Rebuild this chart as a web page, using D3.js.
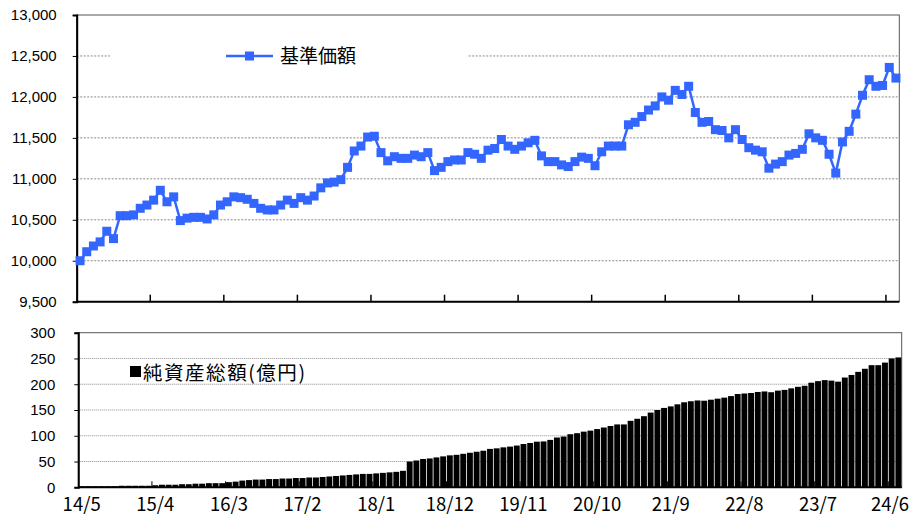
<!DOCTYPE html>
<html>
<head>
<meta charset="utf-8">
<script src="https://cdn.jsdelivr.net/npm/d3@7"></script>
<style>
  body { margin: 0; background: #fff; }
  svg { display: block; }
</style>
</head>
<body>
<svg width="910" height="517"></svg>
<script>
// monthly categories, 14/5 .. 24/7 (123 months)
var months = d3.range(123).map(function (i) {
  var m = 4 + i;
  return String(14 + Math.floor(m / 12)) + "/" + ((m % 12) + 1);
});

var tickLabels = ["14/5", "15/4", "16/3", "17/2", "18/1", "18/12", "19/11", "20/10", "21/9", "22/8", "23/7", "24/6"];

// 基準価額
var navValues = [
  10000, 10110, 10180, 10230, 10360, 10270, 10550, 10550, 10560, 10640,
  10680, 10740, 10860, 10720, 10780, 10490, 10520, 10530, 10530, 10510,
  10560, 10680, 10720, 10780, 10770, 10750, 10700, 10640, 10620, 10620,
  10680, 10740, 10700, 10770, 10740, 10790, 10890, 10950, 10960, 10990,
  11140, 11340, 11400, 11510, 11520, 11320, 11220, 11270, 11250, 11250,
  11290, 11270, 11320, 11100, 11140, 11210, 11230, 11230, 11320, 11300,
  11250, 11350, 11370, 11480, 11400, 11360, 11400, 11440, 11470, 11280,
  11210, 11210, 11170, 11150, 11210, 11265, 11250, 11160, 11330, 11400,
  11400, 11400, 11660, 11690, 11760, 11840, 11890, 12000, 11960, 12080,
  12030, 12130, 11810, 11690, 11700, 11600, 11590, 11500, 11600, 11480,
  11380, 11350, 11330, 11130, 11180, 11210, 11290, 11310, 11360, 11550,
  11500, 11470, 11300, 11070, 11450, 11580, 11790, 12020, 12210, 12130,
  12140, 12360, 12230
];

// 純資産総額(億円)
var assetValues = [
  2, 2, 2, 2, 2, 2, 3, 3, 3, 3,
  3, 4, 5, 5, 5, 6, 6, 7, 7, 8,
  8, 8, 10, 11, 13, 14, 15, 15, 16, 16,
  17, 17, 18, 18, 19, 19, 20, 21, 22, 23,
  24, 25, 26, 26, 27, 28, 29, 30, 32, 50,
  52, 55, 56, 58, 60, 62, 63, 65, 67, 69,
  71, 74.5, 75.6, 77.5, 79, 81, 84, 86, 88.5, 89,
  92, 96.6, 98.5, 103, 105, 108, 110, 113, 116, 119,
  122, 122, 129, 133, 138, 145, 150, 154, 157, 161,
  165, 167, 168.5, 168, 170, 172, 174, 177, 181, 182,
  183, 185, 186, 184.5, 187.6, 189, 192, 195, 197, 203,
  206, 208, 207, 205, 213, 218, 224, 230, 237, 237,
  242, 250, 252
];

var navTicks = [9500, 10000, 10500, 11000, 11500, 12000, 12500, 13000];
var assetTicks = [0, 50, 100, 150, 200, 250, 300];

var svg = d3.select("svg");
var W = +svg.attr("width");
var numFont = "'Liberation Sans', Arial, sans-serif";
var jpFont = "'Noto Sans CJK JP', sans-serif";
var blue = "#3366ff";

// ---- top panel ----
var xTop = d3.scaleBand().domain(months).range([76.7, 899.3]);
var yTop = d3.scaleLinear().domain([9500, 13000]).range([301.7, 15]);

var topG = svg.append("g");

topG.selectAll("line.grid")
  .data(navTicks.slice(1, -1))
  .enter()
  .append("line")
  .attr("class", "grid")
  .attr("x1", xTop.range()[0])
  .attr("x2", xTop.range()[1])
  .attr("y1", function (d) { return yTop(d); })
  .attr("y2", function (d) { return yTop(d); })
  .attr("stroke", "#8a8a8a")
  .attr("stroke-dasharray", "2,1.5");

topG.append("rect")
  .attr("x", xTop.range()[0])
  .attr("y", yTop(13000))
  .attr("width", xTop.range()[1] - xTop.range()[0])
  .attr("height", yTop(9500) - yTop(13000))
  .attr("fill", "none")
  .attr("stroke", "#555");

// legend box hides the grid line behind it
topG.append("rect")
  .attr("x", 110).attr("y", 44).attr("width", 357).attr("height", 25)
  .attr("fill", "#fff");

var yAxisTop = topG.append("g")
  .attr("transform", "translate(" + xTop.range()[0] + ",0)")
  .call(d3.axisLeft(yTop).tickValues(navTicks).tickFormat(d3.format(",")).tickSize(4).tickPadding(16));
yAxisTop.select(".domain").attr("stroke", "#000").attr("stroke-width", 2);
yAxisTop.selectAll("text").attr("font-family", numFont).attr("font-size", 15).attr("fill", "#000");

topG.append("line")
  .attr("x1", xTop.range()[0]).attr("x2", xTop.range()[1])
  .attr("y1", yTop(9500)).attr("y2", yTop(9500))
  .attr("stroke", "#000").attr("stroke-width", 2);

topG.selectAll("line.xtick")
  .data(tickLabels.slice(1))
  .enter()
  .append("line")
  .attr("class", "xtick")
  .attr("x1", function (d) { return xTop(d); })
  .attr("x2", function (d) { return xTop(d); })
  .attr("y1", yTop(9500))
  .attr("y2", yTop(9500) - 7)
  .attr("stroke", "#000")
  .attr("stroke-width", 1.5);

var line = d3.line()
  .x(function (d, i) { return xTop(months[i]) + xTop.bandwidth() / 2; })
  .y(function (d) { return yTop(d); });

topG.append("path")
  .datum(navValues)
  .attr("d", line)
  .attr("fill", "none")
  .attr("stroke", blue)
  .attr("stroke-width", 2.5);

var ms = 9;
topG.selectAll("rect.mk")
  .data(navValues)
  .enter()
  .append("rect")
  .attr("class", "mk")
  .attr("x", function (d, i) { return xTop(months[i]) + xTop.bandwidth() / 2 - ms / 2; })
  .attr("y", function (d) { return yTop(d) - ms / 2; })
  .attr("width", ms)
  .attr("height", ms)
  .attr("fill", blue);

// legend
var lg = topG.append("g").attr("transform", "translate(226,56)");
lg.append("line").attr("x1", 0).attr("x2", 47).attr("stroke", blue).attr("stroke-width", 2.5);
lg.append("rect").attr("x", 23.5 - ms / 2).attr("y", -ms / 2).attr("width", ms).attr("height", ms).attr("fill", blue);
lg.append("text")
  .attr("x", 54).attr("y", 7)
  .attr("font-family", jpFont).attr("font-size", 19).attr("fill", "#000")
  .text("基準価額");

// ---- bottom panel ----
var xBot = d3.scaleBand().domain(months).range([78.3, 901.7]).paddingInner(0.12).paddingOuter(0.06);
var yBot = d3.scaleLinear().domain([0, 300]).range([487.3, 332.7]);

var botG = svg.append("g");

botG.selectAll("line.grid")
  .data(assetTicks.slice(1, -1))
  .enter()
  .append("line")
  .attr("class", "grid")
  .attr("x1", xBot.range()[0])
  .attr("x2", xBot.range()[1])
  .attr("y1", function (d) { return yBot(d); })
  .attr("y2", function (d) { return yBot(d); })
  .attr("stroke", "#8a8a8a")
  .attr("stroke-dasharray", "1,1");

botG.append("rect")
  .attr("x", xBot.range()[0])
  .attr("y", yBot(300))
  .attr("width", xBot.range()[1] - xBot.range()[0])
  .attr("height", yBot(0) - yBot(300))
  .attr("fill", "none")
  .attr("stroke", "#555");

botG.selectAll("line.xtick")
  .data(tickLabels.slice(1))
  .enter()
  .append("line")
  .attr("class", "xtick")
  .attr("x1", function (d) { return xBot.range()[0] + months.indexOf(d) * xBot.step(); })
  .attr("x2", function (d) { return xBot.range()[0] + months.indexOf(d) * xBot.step(); })
  .attr("y1", yBot(0))
  .attr("y2", yBot(0) - 6)
  .attr("stroke", "#000");

botG.selectAll("rect.bar")
  .data(assetValues)
  .enter()
  .append("rect")
  .attr("class", "bar")
  .attr("x", function (d, i) { return xBot(months[i]); })
  .attr("y", function (d) { return yBot(d); })
  .attr("width", xBot.bandwidth())
  .attr("height", function (d) { return yBot(0) - yBot(d); })
  .attr("fill", "#000");

var yAxisBot = botG.append("g")
  .attr("transform", "translate(" + xBot.range()[0] + ",0)")
  .call(d3.axisLeft(yBot).tickValues(assetTicks).tickSize(4).tickPadding(19));
yAxisBot.select(".domain").attr("stroke", "#000").attr("stroke-width", 2);
yAxisBot.selectAll("text").attr("font-family", numFont).attr("font-size", 15).attr("fill", "#000");

botG.append("line")
  .attr("x1", xBot.range()[0]).attr("x2", xBot.range()[1])
  .attr("y1", yBot(0)).attr("y2", yBot(0))
  .attr("stroke", "#000").attr("stroke-width", 2);

botG.selectAll("text.xlab")
  .data(tickLabels)
  .enter()
  .append("text")
  .attr("class", "xlab")
  .attr("x", function (d) { return xBot.range()[0] + (months.indexOf(d) + 0.5) * xBot.step(); })
  .attr("y", 511)
  .attr("text-anchor", "middle")
  .attr("font-family", jpFont)
  .attr("font-size", 18.5)
  .attr("fill", "#000")
  .text(function (d) { return d; })
  .each(function () {
    // keep the last label inside the picture
    var b = this.getBBox();
    if (b.x + b.width > W - 1) {
      d3.select(this).attr("x", +d3.select(this).attr("x") - (b.x + b.width - (W - 1)));
    }
  });

// legend
var lb = botG.append("g").attr("transform", "translate(130,366)");
lb.append("rect").attr("width", 11).attr("height", 11).attr("fill", "#000");
lb.append("text")
  .attr("x", 13).attr("y", 13.5)
  .attr("font-family", jpFont).attr("font-size", 19.5).attr("fill", "#000")
  .attr("textLength", 162).attr("lengthAdjust", "spacing")
  .text("純資産総額(億円)");
</script>
</body>
</html>
